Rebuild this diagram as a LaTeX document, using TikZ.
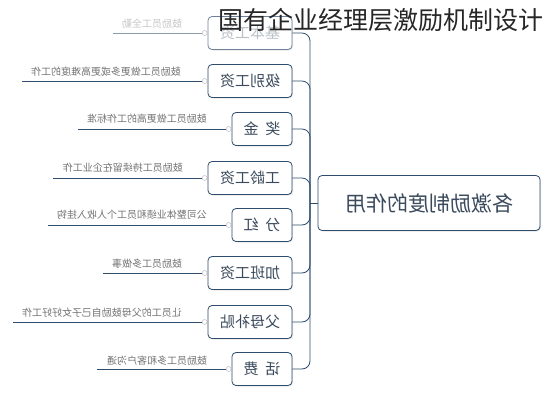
\documentclass[tikz,border=0pt]{standalone}
\usepackage{fontspec}
\usepackage{graphicx}
\setmainfont{Noto Sans CJK SC}
\usetikzlibrary{shadows}
\definecolor{linecol}{HTML}{2E4C6D}
\definecolor{boxtext}{HTML}{3A4A5C}
\newcommand{\flip}[1]{\reflectbox{#1}}
\tikzset{
  part_node/.style = {rectangle, rounded corners=4pt, draw=linecol, thick,
    fill=white, text=boxtext, minimum height=33pt, inner sep=0pt,
    font=\fontsize{15}{15}\selectfont,
    drop shadow={opacity=0.2, shadow xshift=1pt, shadow yshift=-1pt}},% feuille
  wide_node/.style = {part_node, minimum width=84pt},
  narrow_node/.style = {part_node, minimum width=60pt},
  main_node/.style = {part_node, minimum width=222pt, minimum height=55pt,
    font=\fontsize{21}{21}\selectfont},% racine
  tip_text/.style = {text=gray!90!black, inner sep=0pt,
    font=\fontsize{10}{10}\selectfont},
  knob/.style = {circle, draw=gray!60, fill=white, inner sep=0pt,
    minimum size=5pt},
  branch/.style = {draw=linecol, thick, rounded corners=8pt},
  tipline/.style = {draw=linecol, thick},
  faded/.style = {text=boxtext!35, draw=linecol!70}% haut estompe
}
\begin{document}
\begin{tikzpicture}[x=1pt, y=-1pt]
  \useasboundingbox (0,0) rectangle (552,400);
  \node [main_node] (main) at (429,203) {\flip{各激励制度的作用}};
  \coordinate (hub) at (310,203);
  \draw [branch] (main.west) -- (hub);
  % les huit branches
  \node [wide_node, faded] (jiben) at (250,33) {\flip{基本工资}};
  \node [wide_node] (jibie) at (250,81) {\flip{级别工资}};
  \node [narrow_node] (jiang) at (262,129) {\flip{奖\ \ 金}};
  \node [wide_node] (gongling) at (250,178) {\flip{工龄工资}};
  \node [narrow_node] (fenhong) at (262,225) {\flip{分\ \ 红}};
  \node [wide_node] (jiaban) at (250,273) {\flip{加班工资}};
  \node [wide_node] (fumu) at (250,322) {\flip{父母补贴}};
  \node [narrow_node] (huafei) at (262,369) {\flip{话\ \ 费}};
  \foreach \b in {jiben,jibie,jiang,gongling,fenhong,jiaban,fumu,huafei}{
    \draw [branch] (hub) |- (\b.east);
    \node [knob] (k-\b) at ([xshift=-3pt]\b.west) {};
  }
  % les commentaires
  \coordinate (e1) at (113,33);
  \coordinate (e2) at (22,81);
  \coordinate (e3) at (78,129);
  \coordinate (e4) at (53,178);
  \coordinate (e5) at (48,225);
  \coordinate (e6) at (103,273);
  \coordinate (e7) at (13,322);
  \coordinate (e8) at (97,369);
  \draw [tipline, linecol!55] (k-jiben.west) -- (e1);
  \draw [tipline] (k-jibie.west) -- (e2);
  \draw [tipline] (k-jiang.west) -- (e3);
  \draw [tipline] (k-gongling.west) -- (e4);
  \draw [tipline] (k-fenhong.west) -- (e5);
  \draw [tipline] (k-jiaban.west) -- (e6);
  \draw [tipline] (k-fumu.west) -- (e7);
  \draw [tipline] (k-huafei.west) -- (e8);
  \node [tip_text, text=gray!45] (t1) at (152,24) {\flip{鼓励员工全勤}};
  \node [tip_text] (t2) at (106,72) {\flip{鼓励员工做更多或更高难度的工作}};
  \node [tip_text] (t3) at (147,119) {\flip{鼓励员工做更高的工作标准}};
  \node [tip_text] (t4) at (123,168) {\flip{鼓励员工持续留在企业工作}};
  \node [tip_text] (t5) at (132,215) {\flip{公司整体业绩和员工个人收入挂钩}};
  \node [tip_text] (t6) at (147,264) {\flip{鼓励员工多做事}};
  \node [tip_text] (t7) at (102,313) {\flip{让员工的父母鼓励自己子女好好工作}};
  \node [tip_text] (t8) at (157,361) {\flip{鼓励员工多和客户沟通}};
  % titre
  \node [anchor=west, inner sep=0pt, text=black!85,
    font=\fontsize{25}{25}\selectfont]
    (title) at (218,20) {国有企业经理层激励机制设计};
\end{tikzpicture}
\end{document}
